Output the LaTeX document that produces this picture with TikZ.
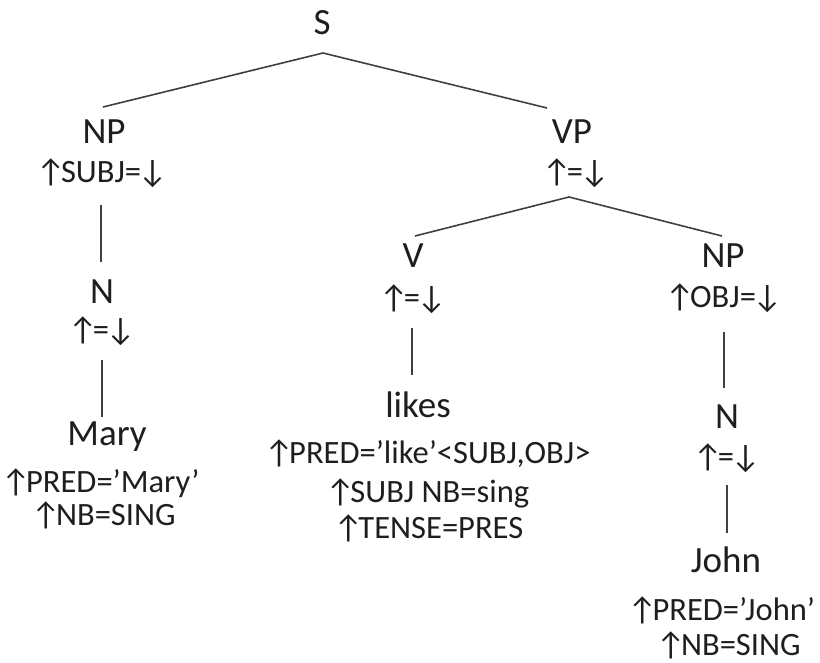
\documentclass[tikz,border=0pt]{standalone}
\usepackage{fontspec}
\setmainfont{Carlito}
\newcommand{\Up}{\kern-0.1em↑\kern-0.14em}
\newcommand{\Dn}{\kern-0.1em↓\kern-0.08em}
\definecolor{txt}{HTML}{1E1E1E}
\definecolor{linec}{HTML}{404040}
\begin{document}
\begin{tikzpicture}[x=0.75pt,y=-0.75pt,
  cat/.style={font=\fontsize{27.75}{30}\selectfont, inner sep=0pt, anchor=base, text=txt},
  ann/.style={font=\fontsize{24.4}{27}\selectfont, inner sep=0pt, anchor=base, text=txt},
  edge/.style={draw=linec, line width=1.2pt}]
\useasboundingbox (0,0) rectangle (820,663);
% labels
\node[cat] (S) at (322,35) {S};
\node[cat] (NP1) at (104,143) {NP};
\node[ann] (NP1a) at (102,182) {\Up SUBJ=\Dn};
\node[cat] (VP) at (572,143) {VP};
\node[ann] (VPa) at (576,182) {\Up=\Dn};
\node[cat] (N1) at (102,303) {N};
\node[ann] (N1a) at (102,340) {\Up=\Dn};
\node[cat] (Mary) at (107,445) {Mary};
\node[ann] (Marya) at (102,492) {\Up PRED=’Mary’};
\node[ann] (Maryb) at (105,525) {\Up NB=SING};
\node[cat] (V) at (413,267) {V};
\node[ann] (Va) at (413,308) {\Up=\Dn};
\node[cat] (likes) at (418,417) {likes};
\node[ann] (l1) at (429,463) {\Up PRED=’like’<SUBJ,OBJ>};
\node[ann] (l2) at (429,502) {\Up SUBJ NB=sing};
\node[ann] (l3) at (430,538) {\Up TENSE=PRES};
\node[cat] (NP2) at (723,267) {NP};
\node[ann] (NP2a) at (724,307) {\Up OBJ=\Dn};
\node[cat] (N2) at (727,428) {N};
\node[ann] (N2a) at (727,467) {\Up=\Dn};
\node[cat] (John) at (726,572) {John};
\node[ann] (J1) at (723,620) {\Up PRED=’John’};
\node[ann] (J2) at (730,655) {\Up NB=SING};
% connector ends
\coordinate (S-b) at (323,53);
\coordinate (NP1-t) at (103,107);
\coordinate (VP-t) at (547,108);
\coordinate (VP-b) at (569,197);
\coordinate (V-t) at (415,236);
\coordinate (NP2-t) at (722,236);
\coordinate (NP1-b) at (101,205);
\coordinate (N1-t) at (101,262);
\coordinate (N1-b) at (102,360);
\coordinate (Mary-t) at (102,417);
\coordinate (V-b) at (412,328);
\coordinate (likes-t) at (412,375);
\coordinate (NP2-b) at (724,332);
\coordinate (N2-t) at (724,388);
\coordinate (N2-b) at (727,485);
\coordinate (John-t) at (727,533);
% connectors
\draw[edge] (S-b) -- (NP1-t);
\draw[edge] (S-b) -- (VP-t);
\draw[edge] (VP-b) -- (V-t);
\draw[edge] (VP-b) -- (NP2-t);
\draw[edge] (NP1-b) -- (N1-t);
\draw[edge] (N1-b) -- (Mary-t);
\draw[edge] (V-b) -- (likes-t);
\draw[edge] (NP2-b) -- (N2-t);
\draw[edge] (N2-b) -- (John-t);
\end{tikzpicture}
\end{document}
